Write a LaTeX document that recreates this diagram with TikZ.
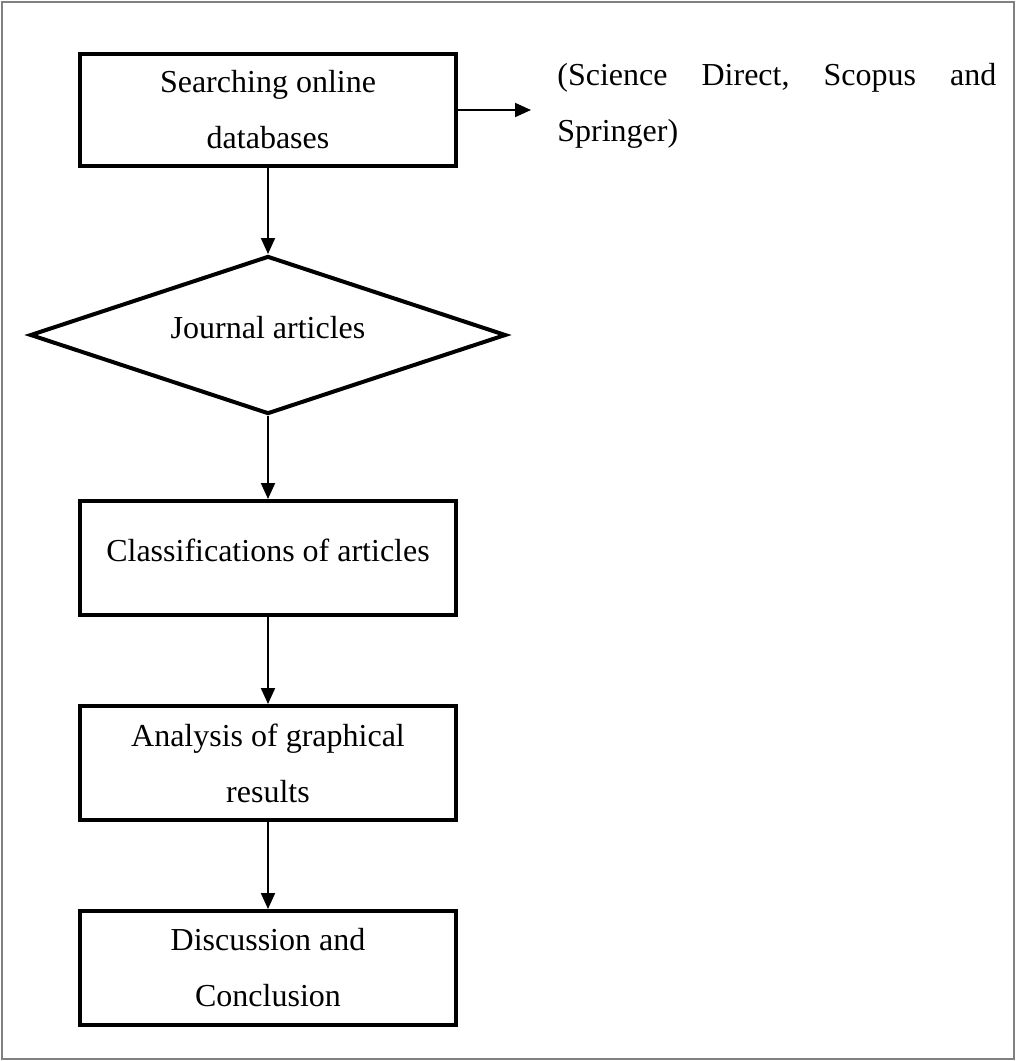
\documentclass[tikz,border=0pt]{standalone}
\usepackage{fontspec}
\setmainfont{Liberation Serif}
\usetikzlibrary{shapes.geometric,arrows.meta}
\begin{document}
\begin{tikzpicture}[x=0.5pt,y=-0.5pt,
  stepbox/.style={draw, line width=2pt, minimum width=188pt, minimum height=56pt, inner sep=0pt, align=center, font=\fontsize{16}{28}\selectfont},
  decbox/.style={draw, diamond, line width=2pt, minimum width=238pt, minimum height=79pt, inner sep=0pt, aspect=3, align=center, font=\fontsize{16}{28}\selectfont},
  arr/.style={line width=1pt, -{Triangle[length=8pt,width=7pt]}},
  frame/.style={draw=black!50, line width=1.2pt}
]
\useasboundingbox (0,0) rectangle (1016,1061);
\draw[frame] (2,2) rectangle (1014,1059);

\node[stepbox] (b1) at (268,110) {Searching online\\databases};
\node[decbox, text depth=8pt] (d) at (268,335) {Journal articles};
\node[stepbox, minimum height=57pt, text depth=8pt] (b2) at (268,558) {Classifications of articles};
\node[stepbox, minimum height=57pt] (b3) at (268,763) {Analysis of graphical\\results};
\node[stepbox, minimum height=57pt] (b4) at (268,968) {Discussion and\\Conclusion};

\coordinate (rt) at (531,110);
\node[anchor=west, inner sep=0pt, align=left, font=\fontsize{16}{28}\selectfont] (src) at (557,106)
  {\hbox to 219.5pt{(Science\hfill Direct,\hfill Scopus\hfill and}\\Springer)};

\draw[arr] (b1.east) -- (rt);
\draw[arr] (b1.south) -- (d.north);
\draw[arr] (d.south) -- (b2.north);
\draw[arr] (b2.south) -- (b3.north);
\draw[arr] (b3.south) -- (b4.north);
\end{tikzpicture}
\end{document}
